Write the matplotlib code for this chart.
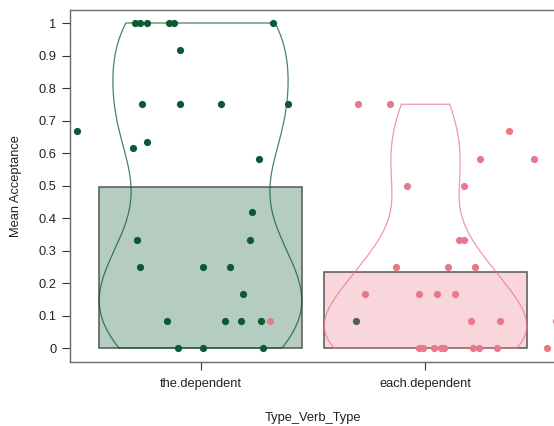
import numpy as np
import matplotlib
matplotlib.use("Agg")
import matplotlib.pyplot as plt

plt.rcParams['font.family'] = ['Liberation Sans', 'DejaVu Sans']

groups = ["the.dependent", "each.dependent"]
point_cols = ["#0b5a32", "#e8788a"]

# the.dependent: mean acceptance per item and its horizontal jitter
the_vals = [1, 1, 1, 1, 1, 1, 0.917, 0.75, 0.75, 0.75, 0.75, 0.667, 0.635,
            0.615, 0.583, 0.417, 0.333, 0.333, 0.25, 0.25, 0.25, 0.167,
            0.083, 0.083, 0.083, 0.083, 0.083, 0, 0, 0]
the_jit = [-0.293, -0.271, -0.236, -0.138, -0.12, 0.32, -0.093, -0.258,
           -0.093, 0.093, 0.387, -0.551, -0.24, -0.298, 0.258, 0.231,
           -0.284, 0.222, -0.267, 0.013, 0.133, 0.187, -0.151, 0.111, 0.178,
           0.271, 0.689, -0.102, 0.013, 0.28]

# each.dependent
each_vals = [0.75, 0.75, 0.667, 0.583, 0.583, 0.5, 0.5, 0.333, 0.333, 0.25,
             0.25, 0.25, 0.167, 0.167, 0.167, 0.167, 0.083, 0.083, 0.083,
             0.083, 0, 0, 0, 0, 0, 0, 0, 0, 0]
each_jit = [-0.302, -0.156, 0.369, 0.24, 0.484, -0.08, 0.173, 0.147, 0.169,
            -0.129, 0.098, 0.222, -0.267, -0.031, 0.049, 0.129, -0.693, 0.2,
            0.329, 0.582, -0.027, -0.009, 0.036, 0.071, 0.084, 0.213, 0.236,
            0.32, 0.542]

yticks = [0, 0.1, 0.2, 0.3, 0.4, 0.5, 0.6, 0.7, 0.8, 0.9, 1]


def bean(v, width=0.45):
    # gaussian density (nrd0 bandwidth) cut at the data range
    v = np.asarray(v, dtype=float)
    n = len(v)
    sd = v.std(ddof=1)
    q75, q25 = np.percentile(v, [75, 25])
    bw = 0.9 * min(sd, (q75 - q25) / 1.34) * n ** -0.2
    y = np.linspace(v.min(), v.max(), 300)
    d = np.exp(-0.5 * ((y[:, None] - v[None, :]) / bw) ** 2).sum(axis=1)
    return y, d / d.max() * width


fig = plt.figure(figsize=(5.54, 4.26), dpi=100)
ax = fig.add_axes([70 / 554, 64 / 426, 486 / 554, 352 / 426])

# each group is drawn in full (bar, bean, points) before the next one
for i, (vals, jit) in enumerate([(the_vals, the_jit), (each_vals, each_jit)]):
    x0 = i + 1
    z = 10 * i
    col = point_cols[i]
    ax.bar(x0, np.mean(vals), width=0.9, color=col, alpha=0.3, zorder=z + 1)
    ax.bar(x0, np.mean(vals), width=0.9, fill=False, edgecolor="#555555",
           linewidth=1.1, zorder=z + 2)
    y, d = bean(vals)
    xs = np.concatenate([x0 - d, (x0 + d)[::-1], [x0 - d[0]]])
    ys = np.concatenate([y, y[::-1], [y[0]]])
    ax.plot(xs, ys, color=col, alpha=0.75, linewidth=0.9, zorder=z + 2)
    ax.scatter(x0 + np.array(jit), vals, s=27, color=col, linewidths=0,
               zorder=z + 3)

ax.set_xlim(0.42, 2.58)
ax.set_ylim(-0.043, 1.04)
ax.set_xticks([1, 2])
ax.set_xticklabels(groups)
ax.set_yticks(yticks)
ax.set_yticklabels([f"{t:g}" for t in yticks])
ax.tick_params(direction="out", length=5.8, width=0.8, color="#333333",
               labelsize=9.3, labelcolor="#222222")
ax.tick_params(axis="y", pad=4)
ax.tick_params(axis="x", pad=6)
for side in ["left", "bottom", "top"]:
    ax.spines[side].set_color("#6a6a6a")
    ax.spines[side].set_linewidth(1.0)
    ax.spines[side].set_zorder(30)
ax.spines["right"].set_visible(False)

fig.text(313 / 554, 1 - 418 / 426, "Type_Verb_Type", ha="center",
         va="center", fontsize=9.3, color="#222222")
fig.text(16 / 554, 1 - 186 / 426, "Mean Acceptance", ha="center",
         va="center", rotation=90, fontsize=9.3, color="#222222")

fig.savefig("out.png", dpi=100)
